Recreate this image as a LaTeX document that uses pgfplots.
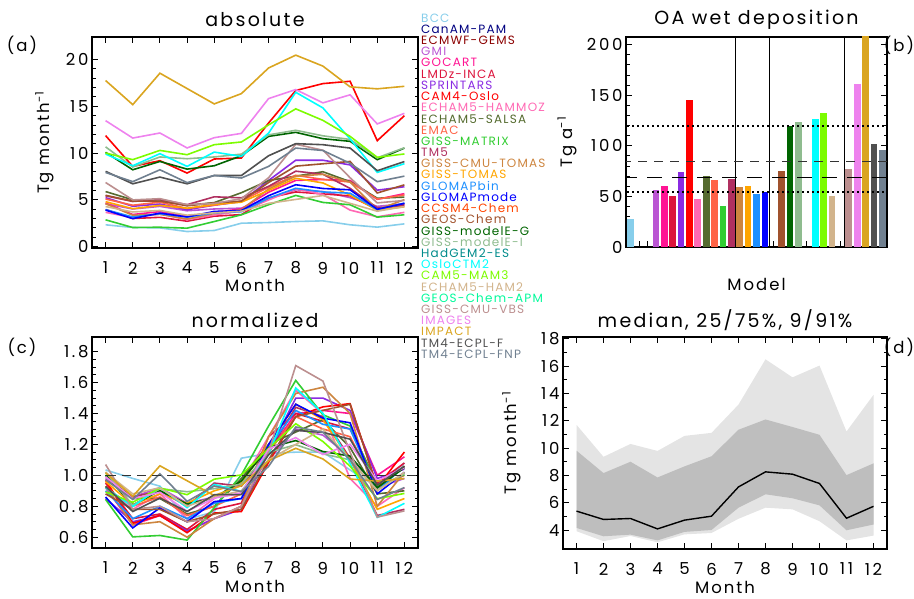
\documentclass[border=0pt]{standalone}
\usepackage{pgfplots}
\pgfplotsset{compat=1.18}
\usepackage{pgfplotstable}
\usepackage{fontspec}
\setmainfont{Poppins}[LetterSpace=10]

\definecolor{cBCC}{RGB}{135,206,235}
\definecolor{cCAN}{RGB}{0,0,128}
\definecolor{cECM}{RGB}{139,0,0}
\definecolor{cGMI}{RGB}{186,85,211}
\definecolor{cGOC}{RGB}{255,20,147}
\definecolor{cLMD}{RGB}{220,20,60}
\definecolor{cSPR}{RGB}{138,43,226}
\definecolor{cCAMO}{RGB}{255,0,0}
\definecolor{cHMZ}{RGB}{255,105,180}
\definecolor{cSAL}{RGB}{85,107,47}
\definecolor{cEMAC}{RGB}{255,99,71}
\definecolor{cMAT}{RGB}{50,205,50}
\definecolor{cTM5}{RGB}{176,48,96}
\definecolor{cCTOM}{RGB}{205,133,63}
\definecolor{cGTOM}{RGB}{255,165,0}
\definecolor{cGBIN}{RGB}{30,144,255}
\definecolor{cGMOD}{RGB}{0,0,255}
\definecolor{cCCSM}{RGB}{255,69,0}
\definecolor{cGEOS}{RGB}{160,82,45}
\definecolor{cGEG}{RGB}{0,100,0}
\definecolor{cGEI}{RGB}{143,188,143}
\definecolor{cHAD}{RGB}{0,139,139}
\definecolor{cOSL}{RGB}{0,255,255}
\definecolor{cMAM}{RGB}{124,252,0}
\definecolor{cHTWO}{RGB}{210,180,140}
\definecolor{cAPM}{RGB}{0,250,154}
\definecolor{cVBS}{RGB}{188,143,143}
\definecolor{cIMG}{RGB}{238,130,238}
\definecolor{cIMP}{RGB}{218,165,32}
\definecolor{cTF}{RGB}{80,80,80}
\definecolor{cTFNP}{RGB}{112,128,144}
\definecolor{lgray}{RGB}{228,228,228}
\definecolor{dgray}{RGB}{190,190,190}

% absolute monthly values (Tg/month), one row per model
\pgfplotstableread{
model 1 2 3 4 5 6 7 8 9 10 11 12
BCC 2.33 2.04 2.00 1.61 1.72 2.50 2.57 2.68 2.75 2.33 2.08 2.43
GMI 4.58 4.02 4.30 3.83 4.02 4.11 5.14 6.07 5.88 5.23 4.30 4.58
GOC 4.65 3.43 3.74 3.23 3.64 4.04 5.81 7.07 7.17 7.07 5.05 5.66
LMD 3.96 3.00 3.13 2.71 3.25 3.42 5.21 5.84 5.63 5.42 3.96 4.50
SPR 5.23 4.31 4.55 3.94 4.43 4.80 7.07 9.23 9.23 8.73 6.03 6.40
CAMO 11.86 8.57 9.18 7.86 9.36 9.47 13.21 16.68 17.42 17.67 11.32 13.99
HMZ 3.66 3.10 3.50 2.87 3.38 3.78 4.98 6.17 5.57 3.90 3.18 3.66
SAL 5.88 5.00 5.00 4.41 4.70 5.76 7.06 7.53 8.00 6.94 5.17 5.29
EMAC 5.08 4.42 4.75 4.08 4.42 4.86 6.35 7.62 7.18 6.90 5.08 5.52
MAT 2.86 2.04 2.07 1.97 2.68 3.40 4.47 5.47 4.72 4.47 3.15 3.40
TM5 5.43 4.82 5.04 4.48 5.32 5.21 6.44 8.06 7.73 6.22 4.14 4.37
CTOM 4.58 3.35 3.44 2.95 3.54 3.94 6.15 7.53 7.72 6.89 3.94 5.02
GTOM 4.80 4.05 4.40 4.10 4.50 4.75 6.00 7.30 6.80 5.50 3.90 4.25
GBIN 3.95 3.16 3.51 3.16 3.60 3.73 5.18 6.23 5.84 5.71 3.95 4.65
GMOD 3.90 2.99 3.58 3.17 3.76 3.85 5.44 6.61 6.21 6.07 3.99 4.62
GEOS 5.48 4.86 4.86 4.36 4.67 4.86 6.85 8.60 8.85 9.10 5.73 6.60
GEG 10.07 8.21 9.10 8.28 8.64 9.71 11.78 12.21 11.53 11.25 9.29 10.53
GEI 10.66 8.51 9.58 9.39 9.58 9.88 11.94 12.43 11.84 11.45 9.49 10.56
OSL 9.89 8.64 9.93 8.57 10.10 9.64 12.13 16.49 14.82 11.50 7.93 8.86
MAM 10.00 9.29 10.28 9.82 10.89 11.18 13.01 14.72 13.49 11.78 9.54 9.90
HTWO 4.28 3.70 3.86 3.36 3.61 3.78 4.62 5.04 5.46 4.62 3.78 4.28
VBS 6.85 4.99 5.12 4.48 4.61 5.12 7.36 10.94 10.30 7.36 4.67 4.93
IMG 13.46 11.60 12.14 10.54 11.64 12.10 15.82 16.78 15.36 16.22 13.11 14.24
IMP 17.75 15.17 18.53 16.89 15.25 16.35 19.09 20.46 19.29 17.07 16.86 17.13
TF 8.04 6.71 7.43 6.71 7.60 7.60 9.71 11.00 10.89 10.53 8.11 9.09
TFNP 7.92 6.94 8.21 6.84 7.60 7.33 8.57 10.53 10.27 8.90 6.94 7.53
}\absraw
\pgfplotstabletranspose[colnames from=model,input colnames to=mon]{\absdata}{\absraw}

% normalized monthly values
\pgfplotstableread{
model 1 2 3 4 5 6 7 8 9 10 11 12
BCC 1.035 0.98 0.93 0.716 0.764 1.111 1.142 1.15 1.15 1.035 0.924 1.080
GMI 0.98 0.86 0.92 0.82 0.86 0.88 1.10 1.30 1.26 1.12 0.92 0.98
GOC 0.92 0.68 0.74 0.64 0.72 0.80 1.15 1.40 1.42 1.40 1.00 1.12
LMD 0.95 0.72 0.75 0.65 0.78 0.82 1.25 1.40 1.35 1.30 0.95 1.08
SPR 0.85 0.70 0.74 0.64 0.72 0.78 1.15 1.50 1.50 1.42 0.98 1.04
CAMO 0.969 0.690 0.741 0.629 0.756 0.766 1.084 1.380 1.443 1.464 0.923 1.151
HMZ 0.92 0.78 0.88 0.72 0.85 0.95 1.25 1.55 1.40 0.98 0.80 0.92
SAL 1.00 0.85 0.85 0.75 0.80 0.98 1.20 1.28 1.36 1.18 0.88 0.90
EMAC 0.92 0.80 0.86 0.74 0.80 0.88 1.15 1.38 1.30 1.25 0.92 1.00
MAT 0.844 0.602 0.611 0.581 0.791 1.003 1.319 1.614 1.392 1.319 0.929 1.003
TM5 0.97 0.86 0.90 0.80 0.95 0.93 1.15 1.44 1.38 1.11 0.74 0.78
CTOM 0.93 0.68 0.70 0.60 0.72 0.80 1.25 1.53 1.57 1.40 0.80 1.02
GTOM 0.96 0.81 0.88 0.82 0.90 0.95 1.20 1.46 1.36 1.10 0.78 0.85
GBIN 0.90 0.72 0.80 0.72 0.82 0.85 1.18 1.42 1.33 1.30 0.90 1.06
GMOD 0.86 0.66 0.79 0.70 0.83 0.85 1.20 1.46 1.37 1.34 0.88 1.02
GEOS 0.88 0.78 0.78 0.70 0.75 0.78 1.10 1.38 1.42 1.46 0.92 1.06
GEG 1.002 0.808 0.901 0.815 0.853 0.964 1.180 1.225 1.154 1.125 0.920 1.050
GEI 1.022 0.806 0.914 0.894 0.914 0.943 1.149 1.198 1.139 1.100 0.904 1.012
OSL 0.920 0.798 0.923 0.791 0.941 0.896 1.139 1.565 1.401 1.078 0.728 0.819
MAM 0.892 0.826 0.918 0.875 0.975 1.003 1.174 1.334 1.219 1.059 0.849 0.883
HTWO 1.02 0.88 0.92 0.80 0.86 0.90 1.10 1.20 1.30 1.10 0.90 1.02
VBS 1.07 0.78 0.80 0.70 0.72 0.80 1.15 1.71 1.61 1.15 0.73 0.77
IMG 0.991 0.849 0.890 0.768 0.852 0.887 1.170 1.244 1.135 1.201 0.964 1.050
IMP 1.016 0.864 1.062 0.965 0.869 0.933 1.094 1.175 1.106 0.976 0.963 0.979
TF 0.928 0.766 0.853 0.766 0.875 0.875 1.133 1.291 1.278 1.234 0.938 1.058
TFNP 0.972 0.844 1.010 0.831 0.931 0.895 1.058 1.313 1.279 1.100 0.844 0.921
}\normraw
\pgfplotstabletranspose[colnames from=model,input colnames to=mon]{\normdata}{\normraw}

% median of the models
\pgfplotstableread{
m med
1 5.40
2 4.79
3 4.86
4 4.10
5 4.74
6 5.03
7 7.17
8 8.27
9 8.10
10 7.42
11 4.88
12 5.75
}\ddata
% 9/91 % band: 91st percentile months 1..12, then 9th percentile months 12..1
\pgfplotstableread{
x y
1 11.71
2 9.37
3 10.31
4 9.80
5 10.90
6 11.12
7 13.19
8 16.50
9 15.18
10 16.04
11 11.22
12 13.90
12 3.61
11 3.26
10 4.66
9 5.53
8 5.65
7 4.84
6 3.80
5 3.70
4 3.12
3 3.58
2 3.20
1 3.93
}\bandninety
% 25/75 % band: 75th percentile months 1..12, then 25th percentile months 12..1
\pgfplotstableread{
x y
1 9.82
2 8.18
3 9.01
4 7.86
5 8.67
6 9.41
7 11.35
8 12.10
9 11.55
10 10.98
11 8.03
12 8.89
12 4.42
11 4.00
10 5.82
9 6.34
8 6.63
7 5.65
6 4.02
5 3.88
4 3.26
3 3.68
2 3.56
1 4.17
}\bandquart

\newcommand{\tfont}{\fontsize{16.5}{18}\selectfont\addfontfeature{LetterSpace=16}}
\newcommand{\labfont}{\fontsize{16.5}{18}\selectfont\addfontfeature{LetterSpace=12}}
\newcommand{\titfont}{\fontsize{19}{21}\selectfont\addfontfeature{LetterSpace=12}}
\newcommand{\lfont}{\fontsize{12}{13}\selectfont}

\pgfplotsset{
  idl/.style={
    scale only axis,
    anchor=south west,
    axis line style={line width=1.1pt},
    every tick/.style={line width=0.9pt, black},
    tick align=inside,
    major tick length=6pt,
    minor tick length=3.5pt,
    tick label style={font=\tfont},
    /pgf/number format/assume math mode=true,
    label style={font=\labfont},
    title style={font=\titfont, at={(axis description cs:0.5,1)}, anchor=center, yshift=11pt},
    xticklabel style={anchor=center, yshift=-20pt},
    xlabel style={at={(axis description cs:0.5,0)}, anchor=center, yshift=-37pt},
  },
  monthx/.style={xmin=0.5, xmax=12.5, xtick={1,2,3,4,5,6,7,8,9,10,11,12}},
  bbar/.style={ybar, bar width=0.8, bar shift=0pt, draw=none, fill=#1},
}

\begin{document}
\begin{tikzpicture}
\path[use as bounding box] (0,0) rectangle (914pt,598pt);

% ---------- (a) absolute ----------
\begin{axis}[idl, monthx, at={(92pt,350pt)}, width=326pt, height=211pt,
  ymin=-0.15, ymax=22.4, ytick={0,5,10,15,20}, minor y tick num=4,
  title={absolute}, xlabel={Month}, ylabel={Tg month\textsuperscript{-1}},
  ylabel style={at={(axis description cs:-0.145,0.5)}, anchor=center}]
\pgfplotsinvokeforeach{BCC,GMI,GOC,LMD,SPR,CAMO,HMZ,SAL,EMAC,MAT,TM5,CTOM,GTOM,GBIN,GMOD,GEOS,GEG,GEI,OSL,MAM,HTWO,VBS,IMG,IMP,TF,TFNP}{
  \addplot[c#1, line width=1.6pt] table[x=mon, y=#1]{\absdata};
}
\end{axis}

% ---------- (c) normalized ----------
\begin{axis}[idl, monthx, at={(92pt,50pt)}, width=326pt, height=211pt,
  ymin=0.53, ymax=1.895, ytick={0.6,0.8,1.0,1.2,1.4,1.6,1.8}, minor y tick num=3,
  yticklabel style={/pgf/number format/.cd, fixed, fixed zerofill, precision=1},
  title={normalized}, xlabel={Month}, xlabel style={yshift=-1.5pt}]
\pgfplotsinvokeforeach{BCC,GMI,GOC,LMD,SPR,CAMO,HMZ,SAL,EMAC,MAT,TM5,CTOM,GTOM,GBIN,GMOD,GEOS,GEG,GEI,OSL,MAM,HTWO,VBS,IMG,IMP,TF,TFNP}{
  \addplot[c#1, line width=1.6pt] table[x=mon, y=#1]{\normdata};
}
\addplot[black!80, line width=1.3pt, dash pattern=on 9pt off 6pt] coordinates {(0.5,1) (12.5,1)};
\end{axis}

% ---------- (b) OA wet deposition ----------
\begin{axis}[idl, at={(626pt,351pt)}, width=261pt, height=210pt,
  xmin=-0.56, xmax=30.56, ymin=0, ymax=207.5,
  xtick={0,1,...,30}, xticklabels={}, xtick pos=bottom,
  ytick={0,50,100,150,200}, minor y tick num=4,
  title={OA wet deposition}, xlabel={Model},
  ylabel={Tg a\textsuperscript{-1}},
  ylabel style={at={(axis description cs:-0.226,0.5)}, anchor=center}]
\addplot[bbar=cBCC] coordinates {(0,27.3)};
\addplot[bbar=cGMI] coordinates {(3,56.0)};
\addplot[bbar=cGOC] coordinates {(4,60.6)};
\addplot[bbar=cLMD] coordinates {(5,50.0)};
\addplot[bbar=cSPR] coordinates {(6,73.8)};
\addplot[bbar=cCAMO] coordinates {(7,145.3)};
\addplot[bbar=cHMZ] coordinates {(8,47.8)};
\addplot[bbar=cSAL] coordinates {(9,70.5)};
\addplot[bbar=cEMAC] coordinates {(10,66.2)};
\addplot[bbar=cMAT] coordinates {(11,40.2)};
\addplot[bbar=cTM5] coordinates {(12,67.2)};
\addplot[bbar=cCTOM] coordinates {(13,59.0)};
\addplot[bbar=cGTOM] coordinates {(14,60.0)};
\addplot[bbar=cGBIN] coordinates {(15,52.7)};
\addplot[bbar=cGMOD] coordinates {(16,54.4)};
\addplot[bbar=cGEOS] coordinates {(18,74.8)};
\addplot[bbar=cGEG] coordinates {(19,119.3)};
\addplot[bbar=cGEI] coordinates {(20,123.6)};
\addplot[bbar=cOSL] coordinates {(22,126.9)};
\addplot[bbar=cMAM] coordinates {(23,132.0)};
\addplot[bbar=cHTWO] coordinates {(24,50.4)};
\addplot[bbar=cVBS] coordinates {(26,76.8)};
\addplot[bbar=cIMG] coordinates {(27,161.0)};
\addplot[bbar=cIMP] coordinates {(28,215.0)};
\addplot[bbar=cTF] coordinates {(29,101.5)};
\addplot[bbar=cTFNP] coordinates {(30,95.9)};
\addplot[black, line width=1pt] coordinates {(12.5,-5) (12.5,220)};
\addplot[black, line width=1pt] coordinates {(16.5,-5) (16.5,220)};
\addplot[black, line width=1pt] coordinates {(25.5,-5) (25.5,220)};
\addplot[black, line width=1.2pt, dash pattern=on 1.4pt off 3.6pt] coordinates {(-1,54.3) (31,54.3)};
\addplot[black, line width=1.2pt, dash pattern=on 1.4pt off 3.6pt] coordinates {(-1,119.6) (31,119.6)};
\addplot[black!80, line width=1.3pt, dash pattern=on 9pt off 7pt] coordinates {(-1,84.7) (31,84.7)};
\addplot[black, line width=1.3pt, dash pattern=on 15pt off 10pt] coordinates {(-1,68.9) (31,68.9)};
\end{axis}

% ---------- (d) median, 25/75, 9/91 ----------
\begin{axis}[idl, monthx, at={(563pt,49pt)}, width=324pt, height=212pt, axis on top,
  ymin=2.63, ymax=18.13, ytick={4,6,8,10,12,14,16,18}, minor y tick num=1,
  title={median, 25/75\%, 9/91\%}, xlabel={Month}, xlabel style={yshift=-1.5pt},
  ylabel={Tg month\textsuperscript{-1}},
  ylabel style={at={(axis description cs:-0.158,0.5)}, anchor=center}]
\addplot[fill=lgray, draw=none] table[x=x, y=y]{\bandninety} -- cycle;
\addplot[fill=dgray, draw=none] table[x=x, y=y]{\bandquart} -- cycle;
\addplot[black, line width=1.4pt] table[x=m, y=med]{\ddata};
\end{axis}

% panel letters
\node[font=\labfont] at (22pt,553pt) {(a)};
\node[font=\labfont] at (899pt,553pt) {(b)};
\node[font=\labfont] at (22pt,251pt) {(c)};
\node[font=\labfont] at (899pt,251pt) {(d)};

% legend (model names in their colours)
\foreach \n/\c [count=\i from 0] in {BCC/cBCC, CanAM-PAM/cCAN, ECMWF-GEMS/cECM, GMI/cGMI, GOCART/cGOC, LMDz-INCA/cLMD, SPRINTARS/cSPR, CAM4-Oslo/cCAMO, ECHAM5-HAMMOZ/cHMZ, ECHAM5-SALSA/cSAL, EMAC/cEMAC, GISS-MATRIX/cMAT, TM5/cTM5, GISS-CMU-TOMAS/cCTOM, GISS-TOMAS/cGTOM, GLOMAPbin/cGBIN, GLOMAPmode/cGMOD, CCSM4-Chem/cCCSM, GEOS-Chem/cGEOS, GISS-modelE-G/cGEG, GISS-modelE-I/cGEI, HadGEM2-ES/cHAD, OsloCTM2/cOSL, CAM5-MAM3/cMAM, ECHAM5-HAM2/cHTWO, GEOS-Chem-APM/cAPM, GISS-CMU-VBS/cVBS, IMAGES/cIMG, IMPACT/cIMP, TM4-ECPL-F/cTF, TM4-ECPL-FNP/cTFNP}
  \node[anchor=west, inner sep=0pt, text=\c, font=\lfont] at (421pt, {(580-11.2*\i)*1pt}) {\n};
\end{tikzpicture}
\end{document}
